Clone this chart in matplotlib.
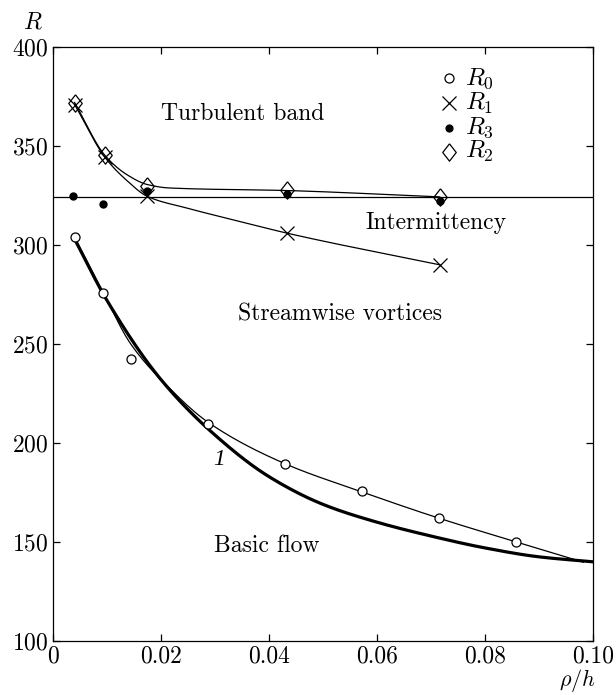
import numpy as np
import matplotlib.pyplot as plt

plt.rcParams["font.family"] = "serif"
plt.rcParams["font.serif"] = ["cmr10", "DejaVu Serif"]
plt.rcParams["mathtext.fontset"] = "cm"
plt.rcParams["axes.formatter.use_mathtext"] = True

# --- measured points ---
r0_x = [0.0040, 0.0093, 0.0144, 0.0287, 0.0430, 0.0572, 0.0715, 0.0858]
r0_y = [304, 275.5, 242.5, 209.5, 189.5, 176, 162, 150]

r1_x = [0.0040, 0.0097, 0.0175, 0.0433, 0.0716]
r1_y = [370.5, 344.5, 324.5, 306, 290]

r2_x = [0.0040, 0.0097, 0.0175, 0.0433, 0.0716]
r2_y = [371.5, 345.5, 330, 327.8, 324.3]

r3_x = [0.0037, 0.0093, 0.0175, 0.0433, 0.0716]
r3_y = [324.5, 320.5, 327.5, 326, 322]

# --- fitted curves ---
fit0_x = [0.004, 0.0093, 0.0144, 0.0211, 0.0287, 0.043, 0.057, 0.0715, 0.0858, 0.0982]
fit0_y = [304, 276, 250, 229, 210.5, 189.5, 175.5, 162, 150, 139.8]

curve1_x = [0.004, 0.01, 0.02, 0.03, 0.04, 0.05, 0.06, 0.07, 0.08, 0.09, 0.10]
curve1_y = [303, 272, 232, 204, 183, 169, 160, 153, 147, 142.5, 140]

fit1_x = [0.004, 0.0097, 0.0137, 0.0175, 0.025, 0.0347, 0.0433, 0.0716]
fit1_y = [371, 344, 332.5, 324.5, 318.5, 311.8, 306, 290]

fit2_x = [0.004, 0.0097, 0.0137, 0.0175, 0.0215, 0.0433, 0.0716]
fit2_y = [372, 345, 335.5, 330.5, 328.8, 327.5, 324.3]

r_level = 324.3

x_ticks = [0, 0.02, 0.04, 0.06, 0.08, 0.10]
x_tick_labels = ["0", "0.02", "0.04", "0.06", "0.08", "0.10"]
y_ticks = [100, 150, 200, 250, 300, 350, 400]

# diamond a bit narrower than tall, like the original
DIAMOND = [(0, 1), (0.78, 0), (0, -1), (-0.78, 0), (0, 1)]


def smooth(xs, ys, n=300):
    """monotone cubic through the points, only used to draw the fit lines"""
    x = np.asarray(xs, float)
    y = np.asarray(ys, float)
    h = np.diff(x)
    d = np.diff(y) / h
    m = np.zeros_like(x)
    m[0], m[-1] = d[0], d[-1]
    for k in range(1, len(x) - 1):
        if d[k - 1] * d[k] > 0:
            w1 = 2 * h[k] + h[k - 1]
            w2 = h[k] + 2 * h[k - 1]
            m[k] = (w1 + w2) / (w1 / d[k - 1] + w2 / d[k])
    xx = np.linspace(x[0], x[-1], n)
    i = np.clip(np.searchsorted(x, xx) - 1, 0, len(h) - 1)
    t = (xx - x[i]) / h[i]
    yy = ((2 * t**3 - 3 * t**2 + 1) * y[i] + (t**3 - 2 * t**2 + t) * h[i] * m[i]
          + (-2 * t**3 + 3 * t**2) * y[i + 1] + (t**3 - t**2) * h[i] * m[i + 1])
    return xx, yy


fig = plt.figure(figsize=(6.16, 6.95), dpi=100)
ax = fig.add_axes([0.086, 0.0777, 0.8767, 0.8547])

ax.plot(*smooth(curve1_x, curve1_y), color="black", lw=2.3, zorder=2)
ax.plot(*smooth(fit0_x, fit0_y), color="black", lw=0.9, zorder=2)
ax.plot(*smooth(fit1_x, fit1_y), color="black", lw=0.9, zorder=2)
ax.plot(*smooth(fit2_x, fit2_y), color="black", lw=0.9, zorder=2)
ax.axhline(r_level, color="black", lw=0.9, zorder=2)

ax.plot(r0_x, r0_y, "o", ms=6.5, mfc="white", mec="black", mew=0.9, zorder=3)
ax.plot(r1_x, r1_y, "x", ms=9.5, mec="black", mew=0.9, zorder=3)
ax.plot(r3_x, r3_y, "o", ms=5, mfc="black", mec="black", zorder=3)
ax.plot(r2_x, r2_y, marker=DIAMOND, ls="none", ms=12.5, mfc="none", mec="black",
        mew=0.9, zorder=4)

# legend drawn by hand
leg_x, leg_tx = 0.0733, 0.0763
leg_rows = [(384.2, "o", "white", 6.5, r"$R_0$"), (371.6, "x", "black", 9.5, r"$R_1$"),
            (359.2, "o", "black", 5, r"$R_3$"), (347.1, DIAMOND, "none", 12.5, r"$R_2$")]
for ly, mk, fc, ms, lab in leg_rows:
    ax.plot([leg_x], [ly], marker=mk, ls="none", ms=ms, mfc=fc, mec="black", mew=0.9)
    ax.text(leg_tx, ly, lab, fontsize=18, va="center", ha="left")

fs = 17
ax.text(0.0351, 366, "Turbulent band", fontsize=fs, ha="center", va="center")
ax.text(0.0709, 311, "Intermittency", fontsize=fs, ha="center", va="center")
ax.text(0.0532, 265, "Streamwise vortices", fontsize=fs, ha="center", va="center")
ax.text(0.0395, 148, "Basic flow", fontsize=fs, ha="center", va="center")
ax.text(0.0307, 191.5, "1", fontsize=fs, ha="center", va="center",
        family="Liberation Serif", style="italic")

ax.set_xlim(0, 0.10)
ax.set_ylim(100, 400)
ax.set_xticks(x_ticks)
ax.set_xticklabels(x_tick_labels)
ax.set_yticks(y_ticks)
ax.tick_params(direction="in", length=5, width=0.9, top=True, right=True,
               labelsize=17, pad=3)
for s in ax.spines.values():
    s.set_linewidth(0.9)

fig.text(33 / 616, 1 - 22 / 695, r"$R$", fontsize=17, ha="center", va="center")
fig.text(577 / 616, 1 - 680 / 695, r"$\rho/h$", fontsize=16, ha="center", va="center")

fig.savefig("out.png", dpi=100)
